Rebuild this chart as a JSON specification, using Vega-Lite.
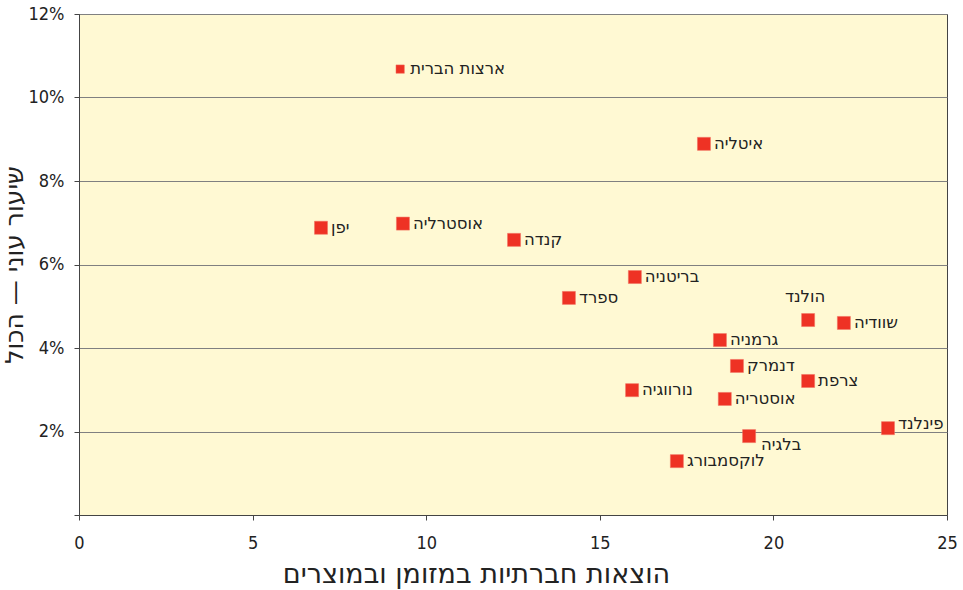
{
  "$schema": "https://vega.github.io/schema/vega-lite/v6.json",
  "width": 868,
  "height": 501,
  "autosize": {"type": "none"},
  "padding": {"left": 79, "top": 14, "right": 16, "bottom": 75},
  "background": "white",
  "config": {
    "font": "DejaVu Sans",
    "view": {"fill": "#FFF9D3", "stroke": "#444444", "strokeWidth": 1}
  },
  "data": {
    "values": [
      {"country": "ארצות הברית", "spend": 9.25, "poverty": 10.68},
      {"country": "איטליה", "spend": 18.0, "poverty": 8.89},
      {"country": "יפן", "spend": 6.97, "poverty": 6.88},
      {"country": "אוסטרליה", "spend": 9.33, "poverty": 6.98},
      {"country": "קנדה", "spend": 12.53, "poverty": 6.59},
      {"country": "בריטניה", "spend": 16.01, "poverty": 5.7},
      {"country": "ספרד", "spend": 14.11, "poverty": 5.2},
      {"country": "הולנד", "spend": 21.0, "poverty": 4.67},
      {"country": "שוודיה", "spend": 22.03, "poverty": 4.6},
      {"country": "גרמניה", "spend": 18.46, "poverty": 4.19},
      {"country": "דנמרק", "spend": 18.95, "poverty": 3.57},
      {"country": "צרפת", "spend": 21.0, "poverty": 3.21},
      {"country": "נורווגיה", "spend": 15.93, "poverty": 2.99},
      {"country": "אוסטריה", "spend": 18.6, "poverty": 2.78},
      {"country": "פינלנד", "spend": 23.3, "poverty": 2.08},
      {"country": "בלגיה", "spend": 19.3, "poverty": 1.89},
      {"country": "לוקסמבורג", "spend": 17.22, "poverty": 1.29}
    ]
  },
  "encoding": {
    "x": {
      "field": "spend", "type": "quantitative",
      "scale": {"domain": [0, 25], "nice": false, "zero": true},
      "axis": {
        "title": "הוצאות חברתיות במזומן ובמוצרים",
        "values": [0, 5, 10, 15, 20, 25],
        "grid": false,
        "labelFlush": false,
        "domainColor": "#444444",
        "tickColor": "#444444",
        "tickSize": 5,
        "labelFontSize": 18,
        "labelColor": "#222222",
        "labelPadding": 14,
        "labelFont": "DejaVu Sans Condensed",
        "titleFontSize": 27,
        "titleFontWeight": "normal",
        "titleColor": "#222222",
        "titlePadding": 9,
        "titleX": 397,
        "titleFont": "DejaVu Sans"
      }
    },
    "y": {
      "field": "poverty", "type": "quantitative",
      "scale": {"domain": [0, 12], "nice": false},
      "axis": {
        "title": "שיעור עוני — הכול",
        "values": [0, 2, 4, 6, 8, 10, 12],
        "labelExpr": "datum.value == 0 ? '' : datum.value + '%'",
        "labelFlush": false,
        "grid": true,
        "gridColor": "#808080",
        "gridWidth": 1,
        "domainColor": "#444444",
        "tickColor": "#444444",
        "tickSize": 5,
        "labelFontSize": 18,
        "labelColor": "#222222",
        "labelPadding": 10,
        "labelFont": "DejaVu Sans Condensed",
        "titleFontSize": 25,
        "titleFontWeight": "normal",
        "titleColor": "#222222",
        "titlePadding": 1,
        "titleFont": "DejaVu Sans"
      }
    }
  },
  "layer": [
    {
      "mark": {"type": "square", "filled": true, "color": "#EE3224", "stroke": "#F07060", "strokeWidth": 0.5, "opacity": 1},
      "encoding": {
        "size": {"condition": {"test": "datum.country == 'ארצות הברית'", "value": 70}, "value": 170}
      }
    },
    {
      "transform": [{"filter": "datum.country != 'הולנד' && datum.country != 'בלגיה' && datum.country != 'פינלנד'"}],
      "mark": {"type": "text", "align": "left", "baseline": "middle", "dx": 10, "dy": 0, "fontSize": 16.5, "color": "#222222"},
      "encoding": {"text": {"field": "country"}}
    },
    {
      "transform": [{"filter": "datum.country == 'פינלנד'"}],
      "mark": {"type": "text", "align": "left", "baseline": "middle", "dx": 10, "dy": -4, "fontSize": 16.5, "color": "#222222"},
      "encoding": {"text": {"field": "country"}}
    },
    {
      "transform": [{"filter": "datum.country == 'הולנד'"}],
      "mark": {"type": "text", "align": "center", "baseline": "middle", "dx": -3, "dy": -23, "fontSize": 16.5, "color": "#222222"},
      "encoding": {"text": {"field": "country"}}
    },
    {
      "transform": [{"filter": "datum.country == 'בלגיה'"}],
      "mark": {"type": "text", "align": "center", "baseline": "middle", "dx": 32, "dy": 9, "fontSize": 16.5, "color": "#222222"},
      "encoding": {"text": {"field": "country"}}
    }
  ]
}
